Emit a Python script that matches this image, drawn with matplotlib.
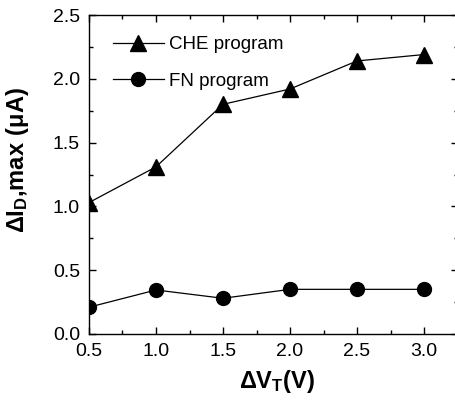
import matplotlib
matplotlib.use("Agg")
import matplotlib.pyplot as plt
from matplotlib.ticker import MultipleLocator

dvt = [0.5, 1.0, 1.5, 2.0, 2.5, 3.0]
che = [1.03, 1.31, 1.80, 1.92, 2.14, 2.19]
fn = [0.21, 0.345, 0.28, 0.35, 0.35, 0.35]
xticks = [0.5, 1.0, 1.5, 2.0, 2.5, 3.0]
yticks = [0.0, 0.5, 1.0, 1.5, 2.0, 2.5]

plt.rcParams['font.family'] = ['Liberation Sans', 'DejaVu Sans']
plt.rcParams['mathtext.fontset'] = 'custom'
plt.rcParams['mathtext.rm'] = 'Liberation Sans'
plt.rcParams['mathtext.bf'] = 'Liberation Sans:bold'

fig = plt.figure(figsize=(4.56, 4.03), dpi=100)
ax = fig.add_axes([89/456, 69/403, 368.5/456, 319/403])

ax.plot(dvt, che, '-', color='black', lw=0.9, marker='^', ms=12, label='CHE program')
ax.plot(dvt, fn, '-', color='black', lw=0.9, marker='o', ms=10, label='FN program')

ax.set_xlim(0.5, 3.25)
ax.set_ylim(0.0, 2.5)
ax.set_xticks(xticks)
ax.set_yticks(yticks)
ax.set_xticklabels([f"{v:.1f}" for v in xticks])
ax.set_yticklabels([f"{v:.1f}" for v in yticks])
ax.xaxis.set_minor_locator(MultipleLocator(0.25))
ax.yaxis.set_minor_locator(MultipleLocator(0.25))
ax.tick_params(which='both', direction='in', top=True, right=True, labelsize=14)
ax.tick_params(axis='x', which='major', pad=6.5)
ax.tick_params(axis='y', which='major', pad=6.5)
ax.tick_params(which='major', length=5, width=1)
ax.tick_params(which='minor', length=3, width=1)
for s in ax.spines.values():
    s.set_linewidth(1)

ax.set_xlabel(r'$\mathbf{\Delta V_T (V)}$', fontsize=17)
ax.xaxis.set_label_coords(0.51, -0.107)
ax.set_ylabel(r'$\mathbf{\Delta I_D{,}max\ (\mu A)}$', fontsize=17)
ax.yaxis.set_label_coords(-0.158, 0.545)

ax.legend(loc='upper left', frameon=False, fontsize=13.5, handlelength=2.7,
          borderaxespad=0.0, borderpad=0.0, labelspacing=1.05, handletextpad=0.3,
          bbox_to_anchor=((113-89)/368.5, (334-36)/319))

fig.savefig('out.png', dpi=100)
